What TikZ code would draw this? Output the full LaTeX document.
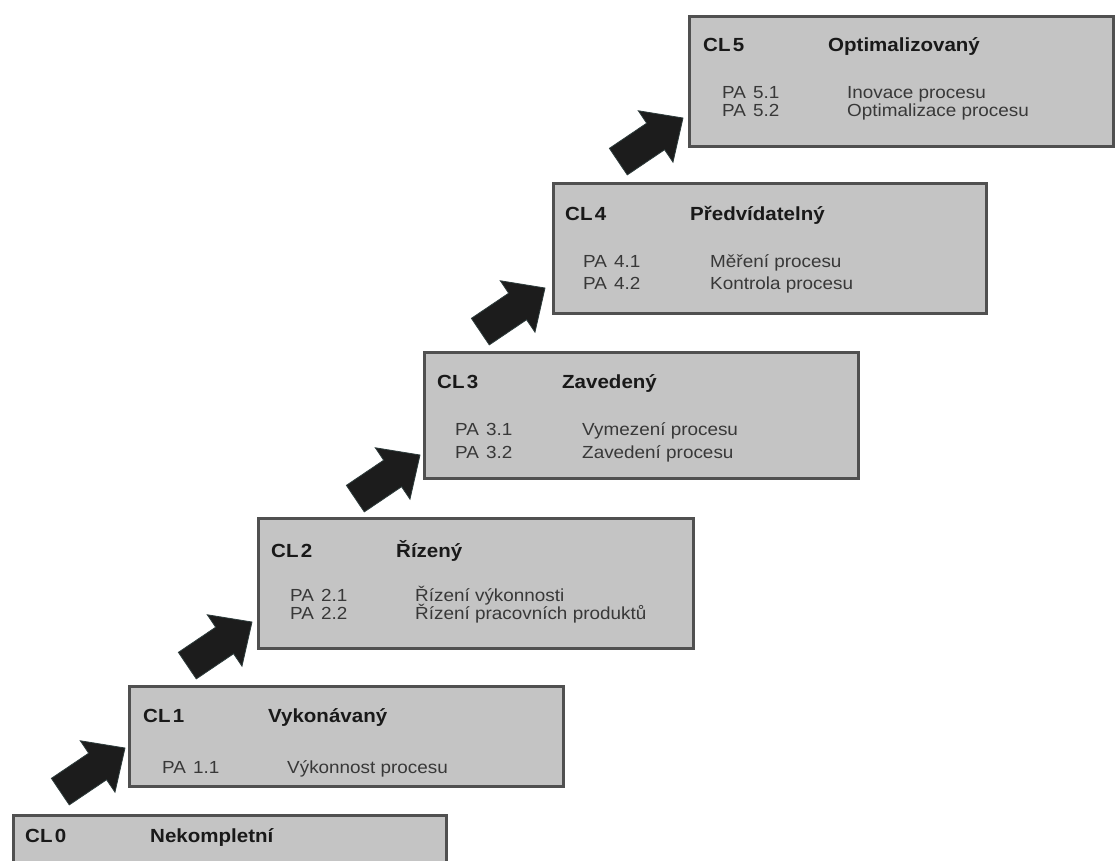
\documentclass[tikz,border=0pt]{standalone}
\usepackage{fontspec}
\setmainfont[FakeStretch=1.08]{Liberation Sans}
\usetikzlibrary{positioning}
\definecolor{boxfill}{HTML}{C4C4C4}
\definecolor{boxline}{HTML}{505050}
\definecolor{arrowfill}{HTML}{1C1C1C}
\definecolor{arrowline}{HTML}{2E3C3C}
\definecolor{patext}{HTML}{383838}
\tikzset{
  levelbox/.style={draw=boxline, fill=boxfill, line width=2.6pt, inner sep=0pt, anchor=north west, rectangle},
  cltext/.style={anchor=base west, inner sep=0pt, font=\fontsize{19}{22}\selectfont\bfseries, text=black!90},
  patextst/.style={anchor=base west, inner sep=0pt, font=\fontsize{17.5}{20}\selectfont, text=patext},
  blockarrow/.style={fill=arrowfill, draw=arrowline, line width=0.8pt, line join=miter}
}
\newcommand{\blockarr}[1]{%
  \draw[blockarrow, shift={(#1)}, rotate=34, y=1pt]
    (0,0) -- (-33,31) -- (-33,16) -- (-78,16) -- (-78,-16) -- (-33,-16) -- (-33,-31) -- cycle;}
\begin{document}
\begin{tikzpicture}[x=1pt, y=-1pt]
\useasboundingbox (0,0) rectangle (1119,860);
\clip (0,0) rectangle (1119,860);
\fill[white] (0,0) rectangle (1119,860);

% boxes
\node[levelbox, minimum width=424pt, minimum height=130pt] (b5) at (688,15) {};
\node[levelbox, minimum width=433pt, minimum height=130pt] (b4) at (552,182) {};
\node[levelbox, minimum width=434pt, minimum height=126pt] (b3) at (423,351) {};
\node[levelbox, minimum width=435pt, minimum height=130pt] (b2) at (257,517) {};
\node[levelbox, minimum width=434pt, minimum height=100pt] (b1) at (128,685) {};
\node[levelbox, minimum width=433pt, minimum height=80pt] (b0) at (12,814) {};

% CL5
\node[cltext] (c5) at (703,51) {CL\hspace{0.12em}5};
\node[cltext] (t5) at (828,51) {Optimalizovaný};
\node[patextst] (p51) at (722,98) {PA\hspace{0.4em}5.1};
\node[patextst] (d51) at (847,98) {Inovace procesu};
\node[patextst] (p52) at (722,116) {PA\hspace{0.4em}5.2};
\node[patextst] (d52) at (847,116) {Optimalizace procesu};

% CL4
\node[cltext] (c4) at (565,220) {CL\hspace{0.12em}4};
\node[cltext] (t4) at (690,220) {Předvídatelný};
\node[patextst] (p41) at (583,267) {PA\hspace{0.4em}4.1};
\node[patextst] (d41) at (710,267) {Měření procesu};
\node[patextst] (p42) at (583,289) {PA\hspace{0.4em}4.2};
\node[patextst] (d42) at (710,289) {Kontrola procesu};

% CL3
\node[cltext] (c3) at (437,388) {CL\hspace{0.12em}3};
\node[cltext] (t3) at (562,388) {Zavedený};
\node[patextst] (p31) at (455,435) {PA\hspace{0.4em}3.1};
\node[patextst] (d31) at (582,435) {Vymezení procesu};
\node[patextst] (p32) at (455,458) {PA\hspace{0.4em}3.2};
\node[patextst] (d32) at (582,458) {Zavedení procesu};

% CL2
\node[cltext] (c2) at (271,557) {CL\hspace{0.12em}2};
\node[cltext] (t2) at (396,557) {Řízený};
\node[patextst] (p21) at (290,601) {PA\hspace{0.4em}2.1};
\node[patextst] (d21) at (415,601) {Řízení výkonnosti};
\node[patextst] (p22) at (290,619) {PA\hspace{0.4em}2.2};
\node[patextst] (d22) at (415,619) {Řízení pracovních produktů};

% CL1
\node[cltext] (c1) at (143,722) {CL\hspace{0.12em}1};
\node[cltext] (t1) at (268,722) {Vykonávaný};
\node[patextst] (p11) at (162,773) {PA\hspace{0.4em}1.1};
\node[patextst] (d11) at (287,773) {Výkonnost procesu};

% CL0
\node[cltext] (c0) at (25,842) {CL\hspace{0.12em}0};
\node[cltext] (t0) at (150,842) {Nekompletní};

% arrow tips
\coordinate (a1) at (125,748);
\coordinate (a2) at (252,622);
\coordinate (a3) at (420,455);
\coordinate (a4) at (545,288);
\coordinate (a5) at (683,118);
\blockarr{a1}
\blockarr{a2}
\blockarr{a3}
\blockarr{a4}
\blockarr{a5}
\end{tikzpicture}
\end{document}
